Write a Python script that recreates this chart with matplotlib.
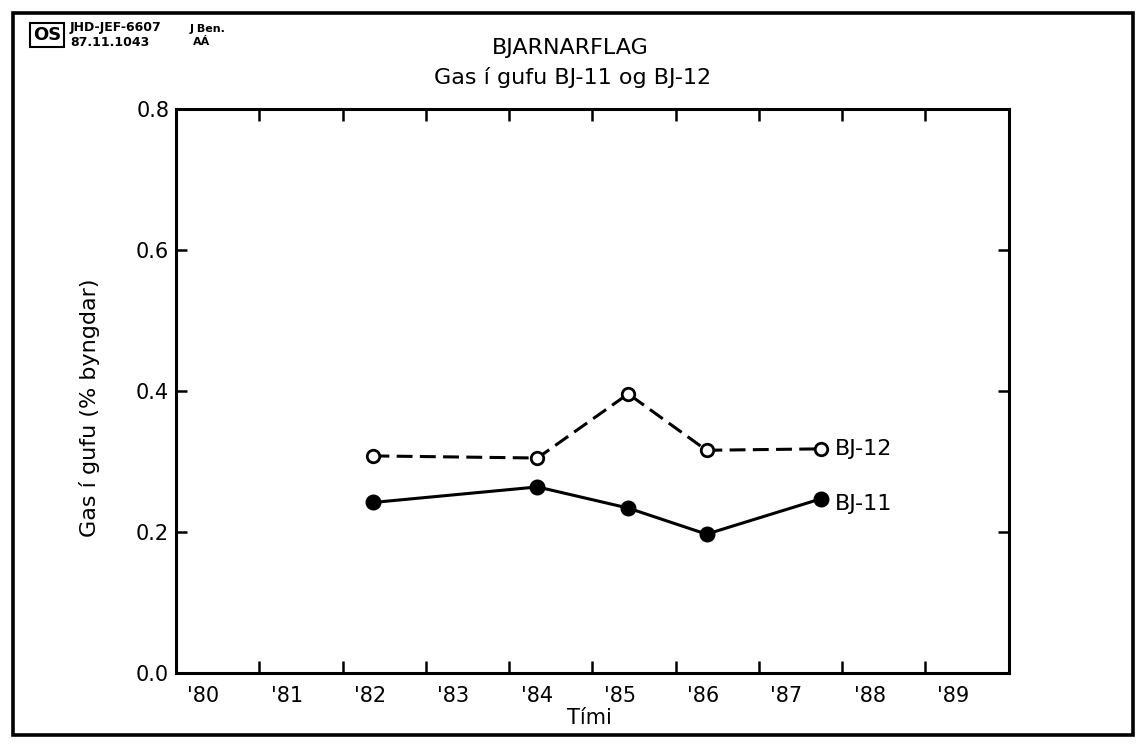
#!/usr/bin/python3
#

"""
 Bjarnarflag - gas i gufu BJ-11 / BJ-12
"""

import matplotlib
matplotlib.use('Agg')
import matplotlib.pyplot as plt
from matplotlib.patches import Rectangle

#
out_file = 'out.png'

years = [1982.37, 1984.34, 1985.43, 1986.37, 1987.74]
bj12 = [0.308, 0.305, 0.396, 0.316, 0.318]
bj11 = [0.242, 0.264, 0.234, 0.197, 0.247]

# Axis ticks / labels
year_ticks = [1981, 1982, 1983, 1984, 1985, 1986, 1987, 1988, 1989]
year_labels = ["'80", "'81", "'82", "'83", "'84", "'85", "'86", "'87", "'88", "'89"]
label_shift = 0.33  # year labels sit to the right of the year start
gas_ticks = [0.0, 0.2, 0.4, 0.6, 0.8]
gas_labels = ['0.0', '0.2', '0.4', '0.6', '0.8']


#
def make_plot(image_file):

	plt.rcParams['font.family'] = ['DejaVu Sans']

	fig = plt.figure(figsize=(11.36, 7.45), dpi=100)
	ax = fig.add_axes([0.155, 0.0966, 0.733, 0.757])

	# Series
	ax.plot(years, bj12, color='black', linewidth=2.2, linestyle=(0, (5.2, 2.4)),
			marker='o', markersize=9, markerfacecolor='white', markeredgewidth=2.0, zorder=3)
	ax.plot(years, bj11, color='black', linewidth=2.2, linestyle='-',
			marker='o', markersize=10.5, markerfacecolor='black', zorder=3)

	# Series names next to the last point
	ax.annotate('BJ-12', xy=(years[-1], bj12[-1]), xytext=(10, 0), textcoords='offset points',
			ha='left', va='center', fontsize=16)
	ax.annotate('BJ-11', xy=(years[-1], bj11[-1]), xytext=(10, -4), textcoords='offset points',
			ha='left', va='center', fontsize=16)

	ax.set_xlim(1980, 1990)
	ax.set_ylim(0, 0.8)

	# Year ticks (no labels) + shifted labels on minor ticks
	ax.set_xticks(year_ticks)
	ax.set_xticklabels([])
	ax.set_xticks([y + label_shift for y in range(1980, 1990)], minor=True)
	ax.set_xticklabels(year_labels, minor=True, fontsize=15)
	ax.tick_params(axis='x', which='major', direction='in', length=8.5, width=1.8, top=True, bottom=True)
	ax.tick_params(axis='x', which='minor', length=0, pad=9)

	ax.set_yticks(gas_ticks)
	ax.set_yticklabels(gas_labels, fontsize=15)
	ax.tick_params(axis='y', direction='in', length=8, width=1.8, left=True, right=True, pad=5)
	# no tick marks at the corners
	for t in (ax.yaxis.get_major_ticks()[0], ax.yaxis.get_major_ticks()[-1]):
		t.tick1line.set_visible(False)
		t.tick2line.set_visible(False)

	for s in ax.spines.values():
		s.set_linewidth(2.2)

	ax.set_xlabel('Tími', fontsize=15)
	ax.xaxis.set_label_coords(0.497, -0.062)
	ax.set_ylabel('Gas í gufu (% byngdar)', fontsize=16)
	ax.yaxis.set_label_coords(-0.091, 0.47)

	# Titles
	fig.text(570 / 1136, 1 - 48 / 745, 'BJARNARFLAG', ha='center', va='center', fontsize=16)
	fig.text(573 / 1136, 1 - 77 / 745, 'Gas í gufu BJ-11 og BJ-12', ha='center', va='center', fontsize=16)

	# Drawing-office header (top left)
	fig.text(47 / 1136, 1 - 35 / 745, 'OS', ha='center', va='center', fontsize=13, fontweight='bold',
			bbox=dict(boxstyle='square,pad=0.15', facecolor='white', edgecolor='black', linewidth=1.5))
	fig.text(70 / 1136, 1 - 28 / 745, 'JHD-JEF-6607', ha='left', va='center', fontsize=9, fontweight='bold')
	fig.text(190 / 1136, 1 - 29 / 745, 'J Ben.', ha='left', va='center', fontsize=8, fontweight='bold')
	fig.text(70 / 1136, 1 - 42 / 745, '87.11.1043', ha='left', va='center', fontsize=9, fontweight='bold')
	fig.text(193 / 1136, 1 - 42 / 745, 'AÁ', ha='left', va='center', fontsize=8, fontweight='bold')

	# Outer frame of the sheet
	fig.patches.append(Rectangle((13 / 1136, 1 - 735 / 745), 1120 / 1136, 722 / 745,
			transform=fig.transFigure, fill=False, edgecolor='black', linewidth=2.6))

	fig.savefig(image_file, dpi=100)


#
if __name__ == '__main__':

	make_plot(out_file)

#
